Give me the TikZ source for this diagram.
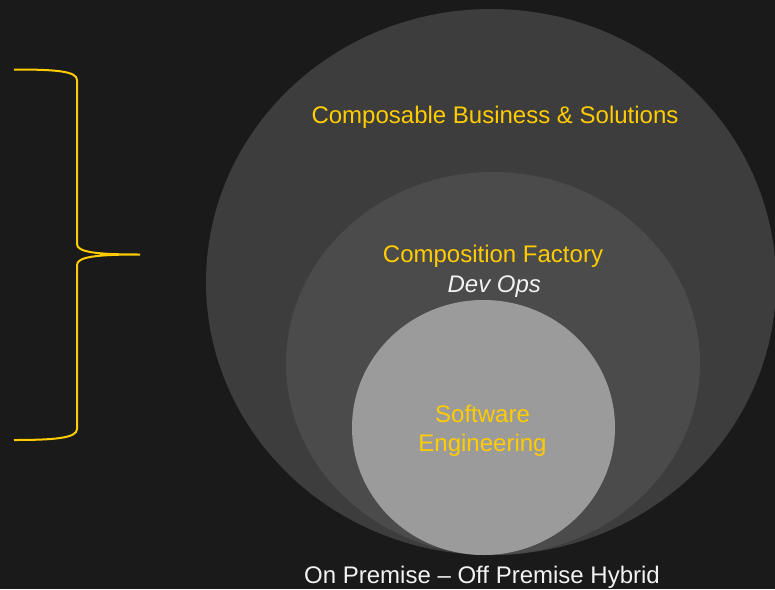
\documentclass[tikz,border=0pt]{standalone}
\usepackage{fontspec}
\setmainfont{Liberation Sans}
\definecolor{bgdark}{HTML}{1A1A1A}
\definecolor{ringouter}{HTML}{3D3D3D}
\definecolor{ringmiddle}{HTML}{4B4B4B}
\definecolor{ringinner}{HTML}{9B9B9B}
\definecolor{gold}{HTML}{FFCC00}
\definecolor{offwhite}{HTML}{F2F2F2}
\tikzset{
  label/.style={inner sep=0pt, anchor=base, text=gold, font=\fontsize{24}{29.5}\selectfont},
  sublabel/.style={label, text=offwhite, font=\fontsize{24}{29.5}\selectfont\itshape},
}
\begin{document}
\begin{tikzpicture}[x=1pt,y=-1pt]
                % frame
                \useasboundingbox (0,0) rectangle (775,589);
                \clip (0,0) rectangle (775,589);
                \fill[bgdark] (0,0) rectangle (775,589);
                % rings
                \fill[ringouter] (491,282) ellipse [x radius=285pt, y radius=273pt];
                \fill[ringmiddle] (493,363.5) ellipse [x radius=207pt, y radius=191.5pt];
                \fill[ringinner] (483.5,427.5) ellipse [x radius=131.5pt, y radius=127.5pt];
                % brace
                \draw[gold, line width=2pt] (14,69.5) .. controls (55,69.5) and (77,71) .. (77,80)
                    -- (77,244) .. controls (77,252) and (95,254.5) .. (140,254.5)
                    .. controls (95,254.5) and (77,257) .. (77,265)
                    -- (77,429) .. controls (77,438) and (55,440) .. (14,440);
                % labels
                \node[label] (business) at (495,123) {Composable Business \& Solutions};
                \node[label] (factory) at (493,262.3) {Composition Factory};
                \node[sublabel] (devops) at (494.3,292.3) {Dev Ops};
                \node[label, align=center] (software) at (482.5,451.8) {Software\\Engineering};
                \node[label, text=offwhite] (premise) at (482,583) {On Premise – Off Premise Hybrid};
            \end{tikzpicture}
\end{document}
